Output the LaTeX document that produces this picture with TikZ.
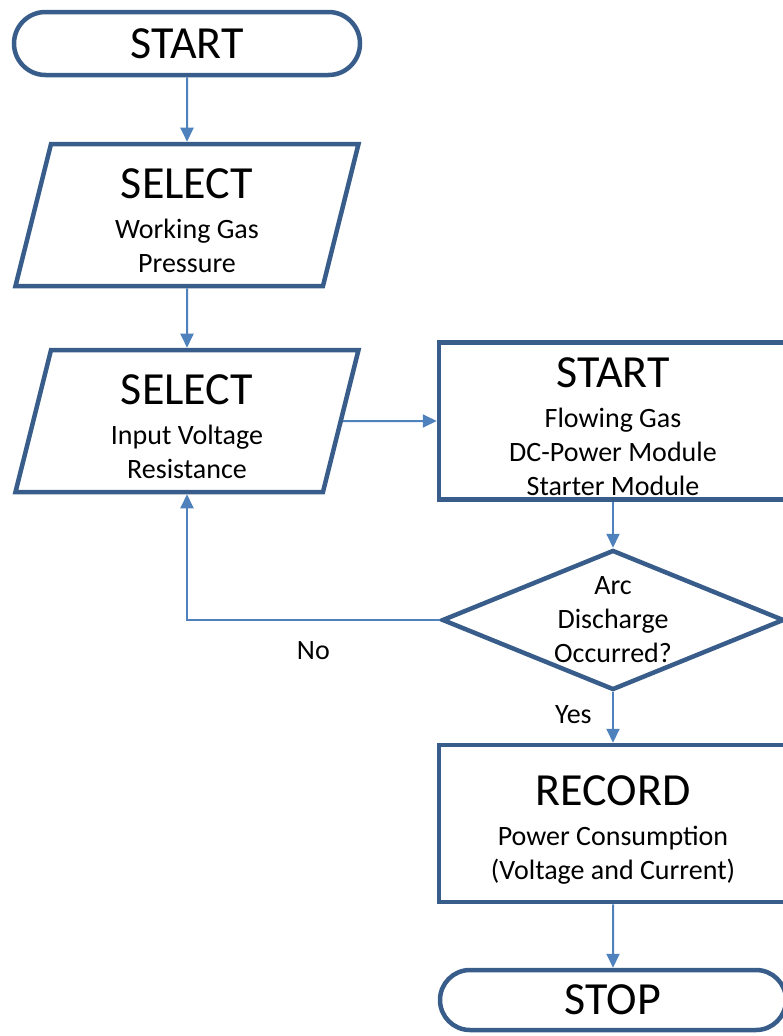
\documentclass[tikz,border=0pt]{standalone}
\usepackage{fontspec}
\setmainfont{Carlito}
\usetikzlibrary{shapes.geometric,shapes.misc,arrows.meta}
\definecolor{boxline}{RGB}{56,93,138}
\definecolor{flowline}{RGB}{79,129,189}
\newcommand{\bigword}[1]{{\fontsize{46}{46}\selectfont #1}}
\newcommand{\headword}[1]{{\fontsize{46}{46}\selectfont\rule{0pt}{42pt}#1}}

\begin{document}
\begin{tikzpicture}[x=1pt,y=-1pt,
  every node/.style={font=\fontsize{28}{34}\selectfont,align=center,text=black},
  terminal/.style={rounded rectangle,draw=boxline,line width=4.5pt,minimum width=346pt,minimum height=63pt,inner sep=0pt},
  inout/.style={trapezium,trapezium left angle=73,trapezium right angle=107,trapezium stretches=true,trapezium stretches body,draw=boxline,line width=4.5pt,minimum width=343pt,minimum height=142pt,inner sep=0pt},
  process/.style={rectangle,draw=boxline,line width=4.5pt,minimum width=348pt,minimum height=157pt,inner sep=0pt},
  decision/.style={diamond,draw=boxline,line width=4.5pt,minimum width=342pt,minimum height=140pt,inner sep=0pt,aspect=2.4},
  flow/.style={draw=flowline,line width=2pt,-{Triangle[length=14pt,width=13pt]}}]
\useasboundingbox (0,0) rectangle (783,1036);
\clip (0,0) rectangle (783,1036);
\node [terminal] (start) at (187,43.5) {\bigword{START}};
\node [inout] (gas) at (187,215) {\headword{SELECT}\\[6pt]Working Gas\\Pressure};
\node [inout] (volt) at (187,421) {\headword{SELECT}\\[6pt]Input Voltage\\Resistance};
\node [process] (modules) at (613,421) {\headword{START}\\[6pt]Flowing Gas\\DC-Power Module\\Starter Module};
\node [decision] (arc) at (613,620) {Arc\\Discharge\\Occurred?};
\node [process] (record) at (613,823.5) {\headword{RECORD}\\[6pt]Power Consumption\\(Voltage and Current)};
\node [terminal,minimum height=60pt] (stop) at (613,1000) {\bigword{STOP}};
\draw [flow] (start) -- (gas);
\draw [flow] (gas) -- (volt);
\draw [flow] (volt.east) -- (modules.west);
\draw [flow] (modules) -- (arc);
\draw [flow] (arc) -- node [pos=0.44,left,xshift=-17pt] {Yes} (record);
\draw [flow] (arc.west) -| node [pos=0.25,below=17pt] {No} (volt.center |- volt.south);
\draw [flow] (record) -- (stop);
\end{tikzpicture}
\end{document}
